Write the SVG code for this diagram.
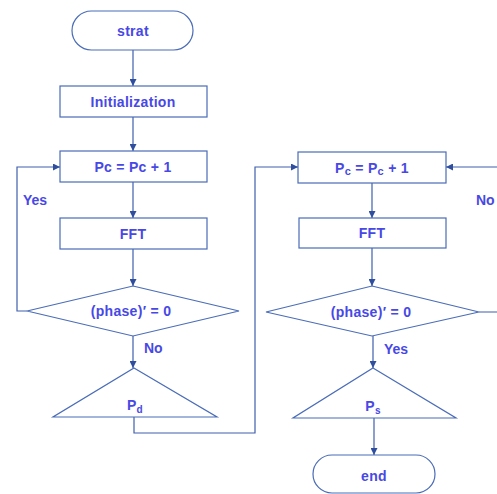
<svg xmlns="http://www.w3.org/2000/svg" width="497" height="494" viewBox="0 0 497 494">
<defs>
<style>
.s{fill:#fff;stroke:#4a6cb8;stroke-width:1.2}
.c{fill:none;stroke:#3f5fae;stroke-width:1.2}
.t{font-family:"Liberation Sans",Arial,sans-serif;font-weight:bold;font-size:14px;fill:#4848e6;text-anchor:middle;letter-spacing:0.3px}
.l{font-family:"Liberation Sans",Arial,sans-serif;font-weight:bold;font-size:14px;fill:#4848e6}
</style>
<marker id="a" viewBox="0 0 10 10" refX="10" refY="5" markerWidth="7" markerHeight="7" orient="auto" markerUnits="userSpaceOnUse">
<path d="M0,0 L10,5 L0,10 z" fill="#2f4f9e"/>
</marker>
</defs>
<rect width="497" height="494" fill="#fff"/>
<g id="connectors">
<path class="c" d="M133,50 V86" marker-end="url(#a)"/>
<path class="c" d="M133,117 V151" marker-end="url(#a)"/>
<path class="c" d="M133,182 V218" marker-end="url(#a)"/>
<path class="c" d="M133,249 V286" marker-end="url(#a)"/>
<path class="c" d="M27,311 H17 V167 H60" marker-end="url(#a)"/>
<path class="c" d="M133,336 V368" marker-end="url(#a)"/>
<path class="c" d="M134,417 V433 H255 V167 H298" marker-end="url(#a)"/>
<path class="c" d="M372,183 V218" marker-end="url(#a)"/>
<path class="c" d="M372,248 V286" marker-end="url(#a)"/>
<path class="c" d="M479,312 H497 M497,167 H446" marker-end="url(#a)"/>
<path class="c" d="M373,336 V368" marker-end="url(#a)"/>
<path class="c" d="M374,418 V455" marker-end="url(#a)"/>
<text class="l" x="23" y="205">Yes</text>
<text class="l" x="144" y="353">No</text>
<text class="l" x="476" y="205">No</text>
<text class="l" x="384" y="354">Yes</text>
</g>
<g id="start">
<rect class="s" x="72" y="11" width="121" height="39" rx="19.5"/>
<text class="t" x="133" y="36">strat</text>
</g>
<g id="init">
<rect class="s" x="60" y="86" width="147" height="31"/>
<text class="t" x="133" y="107">Initialization</text>
</g>
<g id="pc1">
<rect class="s" x="60" y="151" width="147" height="31"/>
<text class="t" x="133" y="172">Pc = Pc + 1</text>
</g>
<g id="fft1">
<rect class="s" x="60" y="218" width="147" height="31"/>
<text class="t" x="133" y="239">FFT</text>
</g>
<g id="dec1">
<polygon class="s" points="133,286 239,311 133,336 27,311"/>
<text class="t" x="131" y="316">(phase)′  = 0</text>
</g>
<g id="pd">
<polygon class="s" points="134,368 217,417 53,417"/>
<text class="t" x="135" y="410">P<tspan font-size="10" dy="3">d</tspan></text>
</g>
<g id="pc2">
<rect class="s" x="298" y="152" width="148" height="31"/>
<text class="t" x="372" y="173">P<tspan font-size="11" dy="2">c</tspan><tspan dy="-2"> = P</tspan><tspan font-size="11" dy="2">c</tspan><tspan dy="-2"> + 1</tspan></text>
</g>
<g id="fft2">
<rect class="s" x="299" y="218" width="147" height="30"/>
<text class="t" x="372" y="238">FFT</text>
</g>
<g id="dec2">
<polygon class="s" points="372,286 479,312 372,336 266,312"/>
<text class="t" x="371" y="317">(phase)′  = 0</text>
</g>
<g id="ps">
<polygon class="s" points="373,368 456,418 293,418"/>
<text class="t" x="373" y="411">P<tspan font-size="10" dy="3">s</tspan></text>
</g>
<g id="end">
<rect class="s" x="313" y="455" width="122" height="38" rx="19"/>
<text class="t" x="374" y="481">end</text>
</g>
</svg>
